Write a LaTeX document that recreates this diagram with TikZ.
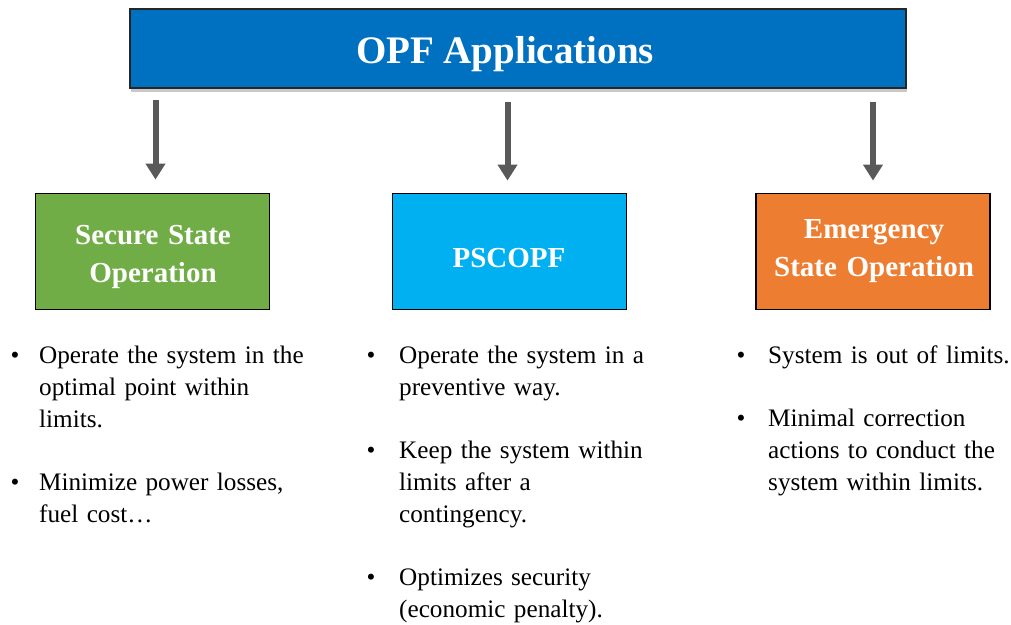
\documentclass[tikz,border=0pt]{standalone}
\usepackage{fontspec}
\setmainfont{Liberation Serif}
\usetikzlibrary{arrows.meta}
\definecolor{opfblue}{HTML}{0070C0}
\definecolor{secgreen}{HTML}{70AD47}
\definecolor{pscblue}{HTML}{00B0F0}
\definecolor{emorange}{HTML}{ED7D31}
\definecolor{arrowgray}{HTML}{595959}
\definecolor{shadowgray}{HTML}{C8C8C8}
\begin{document}
\begin{tikzpicture}[x=1pt,y=-1pt,
  box/.style={draw=black, line width=1.8pt, minimum width=234pt, minimum height=116pt, inner sep=0pt},
  head/.style={text=white, font=\fontsize{29}{38}\selectfont\bfseries, anchor=base, text width=234pt, align=center, inner sep=0pt},
  arr/.style={draw=arrowgray, line width=6pt, -{Triangle[width=19pt,length=16pt]}},
  dot/.style={anchor=base, inner sep=0pt, font=\fontsize{25.2}{32}\selectfont},
  item/.style={anchor=base west, inner sep=0pt, text width=#1, align=left, font=\fontsize{25.2}{32}\selectfont},
  item/.default=290pt
]
\useasboundingbox (0,0) rectangle (1011,624);

% header bar with its soft drop shadow
\fill[shadowgray] (131,13) rectangle (907,92);
\node[draw=black!85, line width=1.8pt, fill=opfblue, minimum width=776pt, minimum height=79pt, inner sep=0pt] (top) at (518,48.5) {};
\node[text=white, font=\fontsize{39}{46}\selectfont\bfseries, anchor=base, inner sep=0pt] (toptxt) at (505,63) {OPF Applications};

% three application boxes
\node[box, fill=secgreen] (sec) at (152.5,251.5) {};
\node[box, fill=pscblue]  (psc) at (509.5,251.5) {};
\node[box, fill=emorange] (emg) at (873,251.5) {};

\node[head] (sectxt) at (153,244) {Secure State\\Operation};
\node[head] (psctxt) at (509,267) {PSCOPF};
\node[head] (emgtxt) at (874,238) {Emergency\\State Operation};

% connectors from the header to each box
\draw[arr] ([xshift=3pt,yshift=-11pt]top.south -| sec.north) -- ([xshift=3pt,yshift=13pt]sec.north);
\draw[arr] ([xshift=-2pt,yshift=-13pt]top.south -| psc.north) -- ([xshift=-2pt,yshift=12pt]psc.north);
\draw[arr] ([yshift=-13pt]top.south -| emg.north) -- ([yshift=12pt]emg.north);

% bullet lists
\node[dot] (b11) at (15,363) {•};
\node[item] (i11) at (39,363) {Operate the system in the\\optimal point within\\limits.};
\node[dot] (b12) at (15,490) {•};
\node[item] (i12) at (39,490) {Minimize power losses,\\fuel cost…};

\node[dot] (b21) at (371,363) {•};
\node[item] (i21) at (399,363) {Operate the system in a\\preventive way.};
\node[dot] (b22) at (371,458) {•};
\node[item] (i22) at (399,458) {Keep the system within\\limits after a\\contingency.};
\node[dot] (b23) at (371,585) {•};
\node[item] (i23) at (399,585) {Optimizes security\\(economic penalty).};

\node[dot] (b31) at (741,363) {•};
\node[item=250pt] (i31) at (768,363) {System is out of limits.};
\node[dot] (b32) at (741,426) {•};
\node[item=250pt] (i32) at (768,426) {Minimal correction\\actions to conduct the\\system within limits.};
\end{tikzpicture}
\end{document}
